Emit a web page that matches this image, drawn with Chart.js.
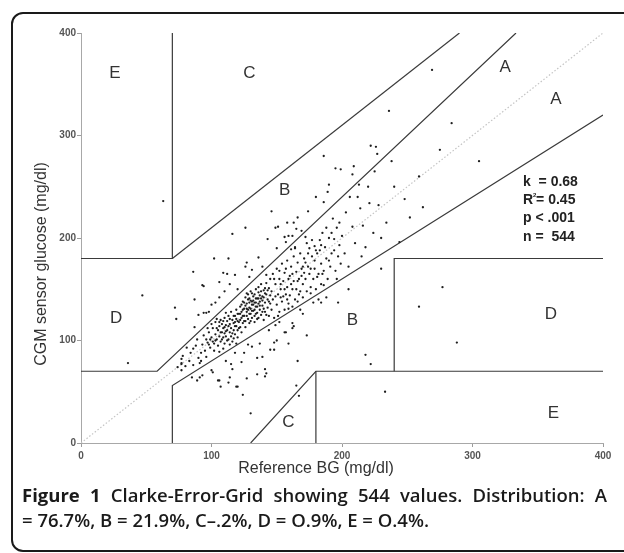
<!DOCTYPE html>
<html>
<head>
<meta charset="utf-8">
<script src="https://cdn.jsdelivr.net/npm/chart.js@4/dist/chart.umd.min.js"></script>
<style>
  html, body { margin: 0; padding: 0; background: #fff; }
</style>
</head>
<body>
<canvas id="chart" width="624" height="553"></canvas>
<script>
// axis ticks (mg/dl)
const tickValues = [0, 100, 200, 300, 400];

// readings [reference BG, CGM sensor glucose], grouped by Clarke zone
const zoneA = [
  [74,74],[77,71],[77,77],[77,82],[78,85],[81,93],[91,78],[77,78],[83,80],[86,76],[88,95],[90,83],
  [92,88],[84,88],[89,101],[93,96],[95,90],[94,105],[96,84],[86,92],[80,75],[92,80],
  [97,98],[98,108],[99,93],[100,103],[101,112],[102,97],[103,106],[103,118],[104,101],[105,110],
  [105,95],[106,114],[106,104],[107,120],[107,99],[108,108],[108,116],[109,103],[109,112],[110,122],
  [110,97],[110,107],[111,115],[111,104],[112,110],[112,119],[113,101],[113,124],[114,108],[114,116],
  [115,112],[115,104],[115,128],[116,120],[116,99],[117,110],[117,117],[118,106],[118,124],[119,114],
  [119,130],[120,103],[120,119],[100,116],[102,90],[104,121],[97,112],[99,101],[111,127],[109,92],
  [106,89],[114,96],[117,102],[119,97],[120,110],
  [104,112],[106,118],[108,101],[109,119],[111,109],[112,100],[113,114],[114,121],[116,107],[117,124],
  [118,114],[119,121],[120,126],[121,118],[122,113],[110,113],[107,108],[103,100],[101,99],[98,96],
  [96,101],[118,118],[123,122],
  [121,126],[121,112],[122,133],[122,120],[123,108],[123,128],[124,138],[124,117],[125,124],[125,131],
  [126,142],[126,113],[127,128],[127,136],[128,121],[128,145],[129,132],[129,117],[130,139],[130,126],
  [130,148],[131,122],[131,135],[132,143],[132,129],[133,118],[133,137],[134,150],[134,126],[135,133],
  [135,141],[136,122],[136,147],[137,130],[137,138],[138,155],[138,125],[139,143],[139,134],[140,149],
  [140,120],[141,137],[141,128],[142,145],[142,156],[143,132],[143,140],[144,124],[144,151],[145,136],
  [145,160],[126,119],[128,140],[131,146],[133,124],[136,136],[138,148],[134,141],[129,137],[127,131],
  [132,135],[135,127],[139,139],[141,151],[124,130],[137,144],[140,131],[130,131],[125,137],[122,126],
  [133,130],[136,141],
  [123,135],[124,124],[125,119],[126,134],[127,124],[128,130],[129,141],[130,119],[131,129],[132,139],
  [133,145],[134,133],[135,121],[136,152],[137,134],[138,141],[139,128],[140,142],[141,146],[142,125],
  [143,149],[144,138],[145,144],[127,146],[131,138],[134,137],[129,126],
  [146,130],[146,148],[147,165],[147,140],[148,122],[149,155],[150,135],[150,170],[151,145],[152,128],
  [152,160],[153,150],[154,175],[154,138],[155,158],[156,130],[156,166],[157,145],[158,178],[158,152],
  [159,136],[160,163],[160,144],[161,172],[162,150],[162,133],[163,182],[163,158],[164,140],[165,167],
  [165,150],[166,176],[166,138],[167,160],[168,185],[168,148],[169,170],[170,155],[170,142],[148,160],
  [151,124],[153,142],[157,170],[159,131],[161,155],[164,190],[167,145],[169,163],[164,191],[161,189],
  [155,143],[149,143],[152,168],[158,140],[153,155],[156,150],[159,160],[162,165],[166,158],
  [171,180],[172,201],[172,160],[173,195],[173,148],[174,172],[175,190],[175,165],[176,152],[177,182],
  [178,160],[179,192],[179,170],[180,150],[181,185],[182,165],[183,198],[184,175],[184,155],[185,205],
  [186,168],[187,191],[188,180],[189,160],[190,200],[191,172],[192,205],[192,185],[193,219],[194,199],
  [195,168],[196,210],[197,182],[198,193],[199,175],[200,202],[176,146],[181,162],[186,154],[190,178],
  [177,198],[183,188],[188,210],[194,188],[171,166],[174,185],[179,178],[185,165],[196,160],[198,215],
  [170,172],[172,176],[176,170],[180,188],[184,193],
  [202,185],[203,225],[205,172],[208,211],[210,195],[212,240],[213,252],[214,229],[215,182],[218,191],
  [221,234],[224,205],[225,265],[228,232],[230,200],[234,215],[240,250],[244,196],[248,238],[252,220],
  [259,260],[262,230],[275,286],[284,312],[305,275],[238,275],[220,250],[206,240],[216,212]
];
const zoneB = [
  [72,132],[73,121],[87,140],[94,153],[106,157],[112,165],[86,167],[118,164],[129,162],[90,125],
  [94,127],[98,128],[87,113],[116,204],[126,210],[102,180],[113,180],[136,181],[143,199],[127,176],
  [126,172],[109,166],[131,169],[139,172],[142,164],[114,155],[93,154],[106,142],[103,137],[96,127],
  [146,226],[166,220],[158,215],[163,215],[149,210],[165,209],[169,207],[159,202],[156,201],[162,202],
  [151,211],[186,280],[195,268],[199,267],[209,270],[208,262],[190,252],[189,245],[186,235],[222,290],
  [226,289],[227,282],[236,324],[269,364],[174,226],[180,240],[120,150],[100,135],[110,148],[150,190],
  [157,196],
  [100,71],[93,66],[85,64],[105,61],[114,64],[116,72],[113,59],[115,77],[123,79],[125,88],
  [135,83],[139,84],[127,63],[135,67],[141,65],[124,47],[107,55],[120,55],[131,94],[137,97],
  [142,68],[141,72],[145,91],[150,100],[156,108],[165,56],[173,105],[163,114],[130,29],[91,64],
  [89,61],[101,69],[106,61],[119,55],[197,137],[184,137],[178,137],[182,140],[168,130],[162,117],
  [162,112],[157,108],[149,115],[148,98],[159,97],[148,91],[166,80],[218,86],[222,77],[144,110],
  [128,96],[118,88],[111,80],[152,118],[170,126],[188,142],[205,150],[230,170]
];
const zoneC = [[167,46]];
const zoneD = [[47,144],[36,78],[259,133],[277,152],[288,98]];
const zoneE = [[63,236],[233,50]];

// Clarke grid boundaries
const gridLines = [
  [[0,180],[70,180],[70,400]],
  [[70,180],[290,400]],
  [[0,70],[58.33,70],[333.33,400]],
  [[70,0],[70,56],[400,320]],
  [[130,0],[180,70],[400,70]],
  [[180,0],[180,70]],
  [[240,70],[240,180],[400,180]]
];
const identityLine = [[0,0],[400,400]];

// zone letters and where they sit (data units)
const zoneLetters = ['E','C','B','A','A','D','C','B','D','E'];
const zoneLetterX = [26,129,156,325,364,27,159,208,360,362];
const zoneLetterY = [361,361,247,367,335,122,20,120,126,29];

const statLines = ['k  = 0.68', 'R2= 0.45', 'p < .001', 'n =  544'];

const toXY = arr => arr.map(p => ({ x: p[0], y: p[1] }));
const readings = [].concat(zoneA, zoneB, zoneC, zoneD, zoneE);

const datasets = [{
  label: 'readings',
  data: toXY(readings),
  pointRadius: 1.15,
  pointHoverRadius: 1.15,
  backgroundColor: '#1e1e1e',
  borderWidth: 0
}];
gridLines.forEach((seg, i) => {
  datasets.push({
    label: 'grid' + i,
    data: toXY(seg),
    showLine: true,
    pointRadius: 0,
    borderColor: '#3a3a3a',
    borderWidth: 1.2,
    fill: false
  });
});
datasets.push({
  label: 'identity',
  data: toXY(identityLine),
  showLine: true,
  pointRadius: 0,
  borderColor: '#c4c4c4',
  borderWidth: 1.2,
  borderDash: [1.5, 2],
  fill: false
});

const overlay = {
  id: 'overlay',
  afterDraw(chart) {
    const ctx = chart.ctx;
    const xs = chart.scales.x, ys = chart.scales.y;
    ctx.save();

    // zone letters
    ctx.fillStyle = '#333';
    ctx.font = '17px "Liberation Sans", Arial, sans-serif';
    ctx.textAlign = 'center';
    ctx.textBaseline = 'middle';
    zoneLetters.forEach((t, i) => {
      ctx.fillText(t, xs.getPixelForValue(zoneLetterX[i]), ys.getPixelForValue(zoneLetterY[i]));
    });

    // statistics block
    ctx.font = 'bold 14px "Liberation Sans", Arial, sans-serif';
    ctx.textAlign = 'left';
    ctx.fillStyle = '#222';
    const sx = 523;
    statLines.forEach((t, i) => {
      const y = 182 + i * 18.3;
      if (t.startsWith('R2')) {
        ctx.fillText('R', sx, y);
        const w = ctx.measureText('R').width;
        ctx.font = 'bold 6px "Liberation Sans", Arial, sans-serif';
        ctx.fillText('2', sx + w, y - 5);
        ctx.font = 'bold 14px "Liberation Sans", Arial, sans-serif';
        ctx.fillText(t.slice(2), sx + w + 3, y);
      } else {
        ctx.fillText(t, sx, y);
      }
    });

    // axis titles
    ctx.fillStyle = '#333';
    ctx.font = '16px "Liberation Sans", Arial, sans-serif';
    ctx.textAlign = 'center';
    ctx.fillText('Reference BG (mg/dl)', 316, 469);
    ctx.save();
    ctx.translate(42, 264);
    ctx.rotate(-Math.PI / 2);
    ctx.fillText('CGM sensor glucose (mg/dl)', 0, 0);
    ctx.restore();

    // figure frame
    ctx.strokeStyle = '#1a1a1a';
    ctx.lineWidth = 2;
    ctx.beginPath();
    ctx.roundRect(12, 13, 640, 538, 11);
    ctx.stroke();

    // caption, first line justified
    const boldF = 'bold 18.5px "Open Sans", sans-serif';
    const semiF = '600 18.5px "Open Sans", sans-serif';
    const words = [['Figure', boldF], ['1', boldF]].concat(
      'Clarke-Error-Grid showing 544 values. Distribution: A'.split(' ').map(w => [w, semiF]));
    let total = 0;
    words.forEach(w => { ctx.font = w[1]; total += ctx.measureText(w[0]).width; });
    const gap = (607 - 22 - total) / (words.length - 1);
    let cx = 22;
    ctx.textAlign = 'left';
    ctx.fillStyle = '#1a1a1a';
    words.forEach(w => {
      ctx.font = w[1];
      ctx.fillText(w[0], cx, 497);
      cx += ctx.measureText(w[0]).width + gap;
    });
    ctx.font = semiF;
    ctx.fillText('= 76.7%, B = 21.9%, C\u2013.2%, D = O.9%, E = O.4%.', 22, 522);
    ctx.restore();
  }
};

const axisCommon = {
  type: 'linear',
  min: 0,
  max: 400,
  afterBuildTicks: s => { s.ticks = tickValues.map(v => ({ value: v })); },
  grid: { drawOnChartArea: false, drawTicks: true, tickLength: 4, color: '#9c9c9c' },
  border: { display: true, color: '#a8a8a8', width: 1 },
  ticks: {
    color: '#555',
    font: { family: '"Liberation Sans", Arial, sans-serif', size: 10, weight: 'bold' }
  }
};

new Chart(document.getElementById('chart'), {
  type: 'scatter',
  data: { datasets },
  options: {
    responsive: false,
    animation: false,
    events: [],
    layout: { padding: { top: 33, right: 21, left: 0, bottom: 0 } },
    plugins: { legend: { display: false }, tooltip: { enabled: false } },
    scales: {
      x: Object.assign({}, axisCommon, {
        position: 'bottom',
        ticks: Object.assign({}, axisCommon.ticks, { padding: 3 }),
        afterFit: s => { s.height = 110; }
      }),
      y: Object.assign({}, axisCommon, {
        position: 'left',
        ticks: Object.assign({}, axisCommon.ticks, { padding: 1 }),
        afterFit: s => { s.width = 81; }
      })
    }
  },
  plugins: [overlay]
});
</script>
</body>
</html>
